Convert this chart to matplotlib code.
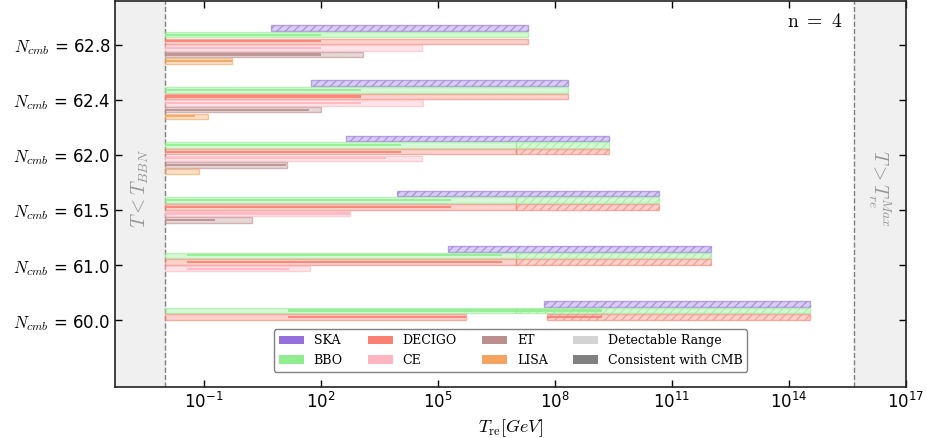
import numpy as np
import matplotlib
matplotlib.use("Agg")
from matplotlib import pyplot as plt
from matplotlib.colors import to_rgba
from matplotlib.patches import Patch

plt.rcParams['mathtext.fontset'] = 'cm'

# e-folds after CMB pivot exit, bottom to top
n_cmb = [60.0, 61.0, 61.5, 62.0, 62.4, 62.8]

# temperature limits in log10(T/GeV)
log_T_bbn = -2.0
log_T_max = 15.67
log_xlim = (-3.28, 16.97)

# detectable ranges (log10 T_re), one entry per n_cmb, None where empty
ska_range = [(7.73, 14.53), (5.25, 12.0), (3.95, 10.67), (2.65, 9.38), (1.75, 8.34), (0.71, 7.30)]

bbo_range = [[(-2, 14.53)], [(-2, 12.0)], [(-2, 10.67)], [(-2, 9.38)], [(-2, 8.34)], [(-2, 7.30)]]
bbo_cmb = [[(1.15, 9.20)], [(-1.43, 6.64)], [(-2, 5.34)], [(-2, 4.05)], [(-2, 3.03)], [(-2, 2.0)]]

decigo_range = [[(-2, 5.71), (7.79, 14.53)], [(-2, 12.0)], [(-2, 10.67)], [(-2, 9.38)], [(-2, 8.34)], [(-2, 7.30)]]
decigo_cmb = [[(1.15, 5.71), (7.79, 9.20)], [(-1.43, 6.64)], [(-2, 5.34)], [(-2, 4.05)], [(-2, 3.03)], [(-2, 2.0)]]

ce_range = [None, [(-2, 1.73)], [(-2, 2.74)], [(-2, 4.58)], [(-2, 4.61)], [(-2, 4.60)]]
ce_cmb = [None, [(-1.43, 1.19)], [(-2, 2.74)], [(-2, 3.66)], [(-2, 3.03)], [(-2, 2.0)]]

et_range = [None, None, [(-2, 0.23)], [(-2, 1.13)], [(-2, 2.0)], [(-2, 3.07)]]
et_cmb = [None, None, [(-2, -0.71)], [(-2, 1.10)], [(-2, 1.70)], [(-2, 2.0)]]

lisa_range = [None, None, None, [(-2, -1.13)], [(-2, -0.905)], [(-2, -0.28)]]
lisa_cmb = [None, None, None, None, [(-2, -1.24)], [(-2, -0.28)]]

# hatched part of BBO / DECIGO bars starts here (log10 T_re)
hatch_from = [7.0, 7.0, 7.0, 7.0, None, None]

detectors = ['BBO', 'DECIGO', 'CE', 'ET', 'LISA']
colors = {'SKA': 'mediumpurple', 'BBO': 'lightgreen', 'DECIGO': 'salmon',
          'CE': 'lightpink', 'ET': 'rosybrown', 'LISA': 'sandybrown'}
ranges = {'BBO': bbo_range, 'DECIGO': decigo_range, 'CE': ce_range,
          'ET': et_range, 'LISA': lisa_range}
cmb = {'BBO': bbo_cmb, 'DECIGO': decigo_cmb, 'CE': ce_cmb,
       'ET': et_cmb, 'LISA': lisa_cmb}

row_step = 0.12
bar_h = 0.10
inner_h = 0.04

fig = plt.figure(figsize=(9.27, 4.38), dpi=100)
ax = fig.add_axes([115 / 927, 51.3 / 438, 791 / 927, 386.2 / 438])
ax.set_xscale('log')

x_lo, x_hi = 10.0 ** log_xlim[0], 10.0 ** log_xlim[1]
T_bbn, T_max = 10.0 ** log_T_bbn, 10.0 ** log_T_max

# excluded regions
ax.axvspan(x_lo, T_bbn, color='#f0f0f0', zorder=0)
ax.axvspan(T_max, x_hi, color='#f0f0f0', zorder=0)
ax.axvline(T_bbn, color='gray', ls='--', lw=1, zorder=1)
ax.axvline(T_max, color='gray', ls='--', lw=1, zorder=1)


def light_bar(y, lo, hi, c, hatch=None):
    ax.barh(y, 10.0 ** hi - 10.0 ** lo, left=10.0 ** lo, height=bar_h,
            facecolor=to_rgba(c, 0.35), edgecolor=to_rgba(c, 0.6),
            linewidth=1, hatch=hatch, zorder=2)


for g in range(len(n_cmb)):
    # SKA row on top, always hatched
    lo, hi = ska_range[g]
    light_bar(g + 2.5 * row_step, lo, hi, colors['SKA'], hatch='////')

    for i, det in enumerate(detectors):
        y = g + (1.5 - i) * row_step
        c = colors[det]
        segs = ranges[det][g]
        if segs is not None:
            for lo, hi in segs:
                h0 = hatch_from[g]
                if det in ('BBO', 'DECIGO') and h0 is not None and hi > h0:
                    if lo < h0:
                        light_bar(y, lo, h0, c)
                        light_bar(y, h0, hi, c, hatch='////')
                    else:
                        light_bar(y, lo, hi, c, hatch='////')
                else:
                    light_bar(y, lo, hi, c)
        segs = cmb[det][g]
        if segs is not None:
            for lo, hi in segs:
                ax.barh(y, 10.0 ** hi - 10.0 ** lo, left=10.0 ** lo,
                        height=inner_h, color=c, alpha=0.9, linewidth=0, zorder=3)

ax.set_xlim(x_lo, x_hi)
ax.set_ylim(-1.2, 5.8)

ax.set_xticks([10.0 ** k for k in range(-1, 18, 3)])
ax.xaxis.set_minor_locator(matplotlib.ticker.NullLocator())
ax.set_yticks(range(len(n_cmb)))
ax.set_yticklabels([r'$N_{cmb}$ = ' + f'{v:.1f}' for v in n_cmb], fontsize=12)
ax.tick_params(axis='x', labelsize=12)
ax.tick_params(direction='in', top=True, right=True, length=5, width=1)
for s in ax.spines.values():
    s.set_linewidth(1.2)
    s.set_color('#222222')

ax.set_xlabel(r'$T_{\rm re}[GeV]$', fontsize=13)

ax.text(10.0 ** ((log_xlim[0] + log_T_bbn) / 2), 2.4, r'$T < T_{BBN}$',
        rotation=90, ha='center', va='center', fontsize=14, color='gray', alpha=0.8)
ax.text(10.0 ** ((log_T_max + log_xlim[1]) / 2), 2.4, r'$T > T_{re}^{Max}$',
        rotation=270, ha='center', va='center', fontsize=14, color='gray', alpha=0.8)
ax.text(0.919, 0.946, r'$\mathrm{n\ =\ 4}$', transform=ax.transAxes,
        ha='right', va='center', fontsize=14)

handles = [Patch(facecolor=colors['SKA'], label='SKA'),
           Patch(facecolor=colors['BBO'], label='BBO'),
           Patch(facecolor=colors['DECIGO'], label='DECIGO'),
           Patch(facecolor=colors['CE'], label='CE'),
           Patch(facecolor=colors['ET'], label='ET'),
           Patch(facecolor=colors['LISA'], label='LISA'),
           Patch(facecolor='lightgray', label='Detectable Range'),
           Patch(facecolor='gray', label='Consistent with CMB')]
ax.legend(handles=handles, ncol=4, loc='lower center', bbox_to_anchor=(0.5, 0.039),
          borderaxespad=0, prop={'family': 'DejaVu Serif', 'size': 9},
          edgecolor='gray', framealpha=1)

fig.savefig('out.png', dpi=100)
